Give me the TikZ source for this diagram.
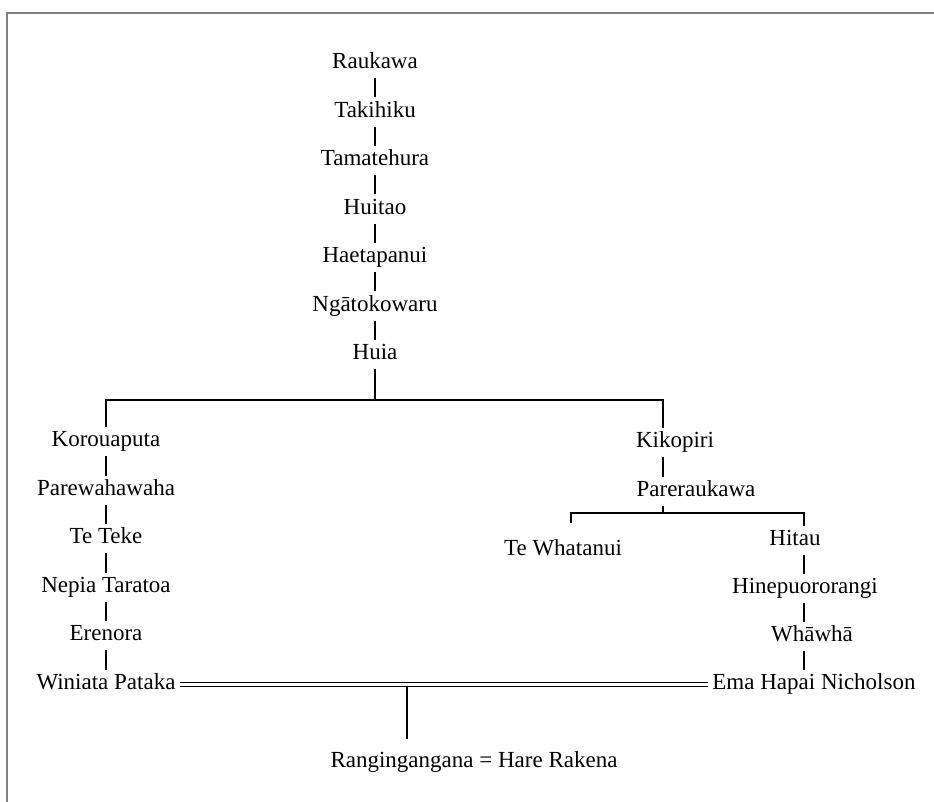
\documentclass[tikz,border=0pt]{standalone}
\usepackage{fontspec}
\setmainfont{Liberation Serif}
\usetikzlibrary{calc}

\tikzset{
	person/.style={anchor=base, inner sep=2pt, text height=8pt, text depth=2.5pt,
		font=\fontsize{11.5}{13}\selectfont},
	kin/.style={line width=0.6pt},
	wed/.style={double, double distance=1.6pt, line width=0.55pt},
}

\begin{document}
\begin{tikzpicture}[x=0.5pt, y=-0.5pt]
	\useasboundingbox (0,0) rectangle (934,802);
	\draw[gray, line width=1pt] (934,13) -- (7,13) -- (7,802);

	% Raukawa line
	\node[person] (rau) at (375,69) {Raukawa};
	\node[person] (tak) at (375,117.5) {Takihiku};
	\node[person] (tam) at (375,166) {Tamatehura};
	\node[person] (hui) at (375,214.5) {Huitao};
	\node[person] (hae) at (375,263) {Haetapanui};
	\node[person] (nga) at (375,311.5) {Ngātokowaru};
	\node[person] (huia) at (375,360) {Huia};
	\draw[kin] (rau.south) -- (tak.north);
	\draw[kin] (tak.south) -- (tam.north);
	\draw[kin] (tam.south) -- (hui.north);
	\draw[kin] (hui.south) -- (hae.north);
	\draw[kin] (hae.south) -- (nga.north);
	\draw[kin] (nga.south) -- (huia.north);

	% left branch
	\node[person] (kor) at (106,447) {Korouaputa};
	\node[person] (pw) at (106,496) {Parewahawaha};
	\node[person] (tt) at (106,544) {Te Teke};
	\node[person] (nep) at (106,593) {Nepia Taratoa};
	\node[person] (ere) at (106,641) {Erenora};
	\node[person] (win) at (106,690) {Winiata Pataka};
	\draw[kin] (kor.south) -- (pw.north);
	\draw[kin] (pw.south) -- (tt.north);
	\draw[kin] (tt.south) -- (nep.north);
	\draw[kin] (nep.south) -- (ere.north);
	\draw[kin] (ere.south) -- (win.north);

	% right branch
	\node[person] (kik) at (675,448) {Kikopiri};
	\node[person] (par) at (696,497) {Pareraukawa};
	\node[person] (tw) at (563,556) {Te Whatanui};
	\node[person] (hit) at (795,546) {Hitau};
	\node[person] (hin) at (805,594) {Hinepuororangi};
	\node[person] (wha) at (812,642) {Whāwhā};
	\node[person] (ema) at (814,690) {Ema Hapai Nicholson};

	\coordinate (lv) at (106,400);
	\coordinate (rv) at (663,400);
	\draw[kin] (huia.south) -- (huia.south |- lv);
	\draw[kin] (kor.north) -- (lv) -- (rv) -- (rv |- kik.north);
	\draw[kin] (rv |- kik.south) -- (rv |- par.north);

	\coordinate (pl) at (571,513);
	\coordinate (pr) at (804,513);
	\coordinate (twtop) at (571,523);
	\draw[kin] (rv |- par.south) -- (rv |- pl);
	\draw[kin] (twtop) -- (pl) -- (pr) -- (pr |- hit.north);
	\draw[kin] (pr |- hit.south) -- (pr |- hin.north);
	\draw[kin] (pr |- hin.south) -- (pr |- wha.north);
	\draw[kin] (pr |- wha.south) -- (pr |- ema.north);

	% marriage and child
	\node[person] (rang) at (474,768) {Rangingangana = Hare Rakena};
	\coordinate (cv) at (407,0);
	\draw[kin, shorten >=4.5pt] (cv |- win.east) -- (cv |- rang.north);
	\draw[wed] (win.east) -- (ema.west);
\end{tikzpicture}
\end{document}
